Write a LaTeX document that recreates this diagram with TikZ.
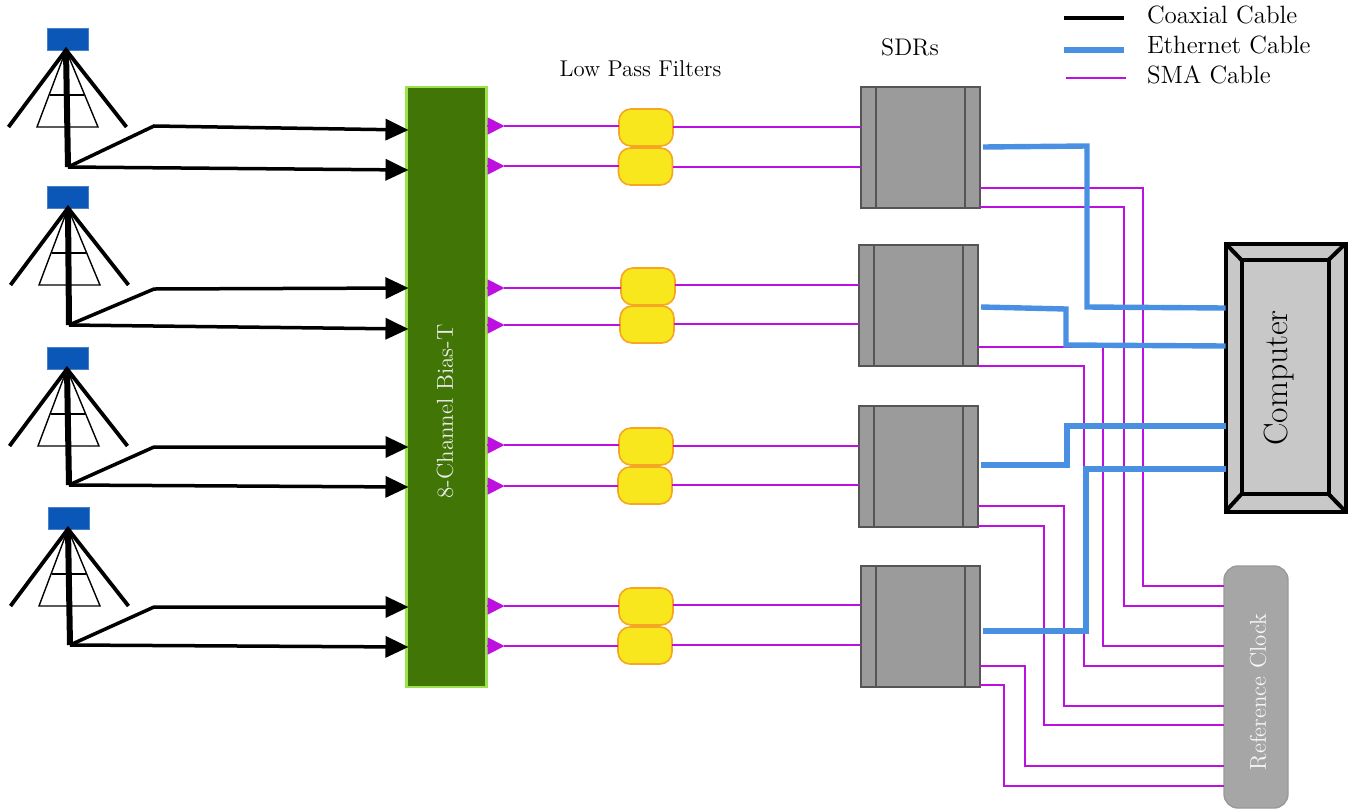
\documentclass[tikz,border=0pt]{standalone}
\usetikzlibrary{arrows.meta,calc}
\definecolor{smac}{HTML}{BD10E0}
\definecolor{ethc}{HTML}{4A90E2}
\definecolor{lpf}{HTML}{F8E71C}
\definecolor{lpfb}{HTML}{F5A623}
\definecolor{biasf}{HTML}{417505}
\definecolor{biasb}{HTML}{9BE24C}
\definecolor{dish}{HTML}{0B57B8}
\definecolor{sdrf}{HTML}{9B9B9B}
\definecolor{sdrb}{HTML}{555555}
\definecolor{pcf}{HTML}{C8C8C8}
\definecolor{clkf}{HTML}{A6A6A6}
\definecolor{clkb}{HTML}{999999}
\tikzset{
  coaxfeed/.style={draw=black,line width=1.75pt,line join=miter,-{Triangle[length=11.5pt,width=10.5pt]}},
  eth/.style={draw=ethc,line width=2.7pt,line join=miter},
  sma/.style={draw=smac,line width=.95pt,line join=miter},
  smatip/.style={draw=smac,line width=.95pt,-{Triangle[length=8.5pt,width=8.5pt]},shorten >=-.5pt},
  dishbox/.style={rectangle,fill=dish,draw=dish!75!white,line width=.4pt,minimum width=20.5pt,minimum height=11pt,inner sep=0pt,outer sep=0pt},
  filterbox/.style={rectangle,rounded corners=6pt,fill=lpf,draw=lpfb,line width=.8pt,minimum width=27pt,minimum height=18.5pt,inner sep=0pt,outer sep=0pt},
  sdrbox/.style={rectangle,fill=sdrf,draw=sdrb,line width=1pt,minimum width=59.5pt,minimum height=60.5pt,inner sep=0pt,outer sep=0pt},
  sdrline/.style={draw=sdrb,line width=1pt},
  lab/.style={inner sep=0pt,outer sep=0pt,anchor=west,font=\fontsize{12.5}{14}\selectfont},
  mast/.style={draw=black,line width=1.9pt,line cap=butt},
  thinmast/.style={draw=black,line width=.7pt},
}
\begin{document}
\begin{tikzpicture}[x=.5pt,y=-.5pt]
\useasboundingbox (0,0) rectangle (1353,809);

% Bias-T
\node[rectangle,fill=biasf,draw=biasb,line width=1.1pt,minimum width=40pt,minimum height=300pt,inner sep=0pt,outer sep=0pt] (bias) at (446.5,387) {};
\node[inner sep=0pt,text=white!92!black,font=\fontsize{11.5}{14}\selectfont] (biaslabel) at (445,411.5) {\rotatebox{90}{8-Channel Bias-T}};

% Antennas
\foreach \n/\bx/\by/\ax/\ay/\hx/\hy/\kx/\ky/\pa/\pb in {
  1/67.5/39/66/50/68/167/154/126/130/170,
  2/67.5/197/68/208/69/325/154/289/288/329,
  3/67.5/358/67/369/69/485/154/447/447/487,
  4/68.5/518/68/529/70/645/154/607/607/647}{
  \node[dishbox] (dish\n) at (\bx,\by) {};
  \coordinate (apex\n) at (\ax,\ay);
  \coordinate (hub\n) at (\hx,\hy);
  \coordinate (knee\n) at (\kx,\ky);
  \coordinate (legl\n) at ($(apex\n)+(-57.5,77)$);
  \coordinate (legr\n) at ($(apex\n)+(60.5,77)$);
  \coordinate (basel\n) at ($(apex\n)+(-29,77)$);
  \coordinate (baser\n) at ($(apex\n)+(32,77)$);
  \coordinate (barl\n) at ($(apex\n)+(-16.5,45)$);
  \coordinate (barr\n) at ($(apex\n)+(18,45)$);
  \draw[thinmast,line join=miter] (apex\n) -- (basel\n) -- (baser\n) -- cycle;
  \draw[thinmast] (barl\n) -- (barr\n);
  \draw[mast] (legl\n) -- (apex\n) -- (legr\n);
  \draw[draw=black,line width=3pt] (apex\n) -- (hub\n);
  \coordinate (in\n a) at ($(bias.west|-0,\pa)+(2,0)$);
  \coordinate (in\n b) at ($(bias.west|-0,\pb)+(2,0)$);
  \draw[coaxfeed] (hub\n) -- (knee\n) -- (in\n a);
  \draw[coaxfeed] (hub\n) -- (in\n b);
}

% SDRs
\node[sdrbox] (sdr1) at (920.5,147.5) {};
\node[sdrbox] (sdr2) at (918.5,305.5) {};
\node[sdrbox] (sdr3) at (918.5,466.5) {};
\node[sdrbox] (sdr4) at (920.5,626.5) {};
\foreach \n in {1,2,3,4}{
  \draw[sdrline] ($(sdr\n.north west)+(15,0)$) -- ($(sdr\n.south west)+(15,0)$);
  \draw[sdrline] ($(sdr\n.north east)+(-15,0)$) -- ($(sdr\n.south east)+(-15,0)$);
}

% Filters and the lines through them
\foreach \id/\fx/\fy/\by/\sy/\s in {
  1a/646/127.5/126/127/1, 1b/645.5/166.5/166/167/1,
  2a/648/286.5/288/285/2, 2b/647/324.5/325/324/2,
  3a/646/446.5/445/446/3, 3b/645/485.5/486/485/3,
  4a/646/606.5/606/605/4, 4b/645/645.5/646/645/4}{
  \node[filterbox] (f\id) at (\fx,\fy) {};
  \coordinate (bo\id) at (bias.east|-0,\by);
  \coordinate (tip\id) at ($(bo\id)+(17,0)$);
  \coordinate (si\id) at (sdr\s.west|-0,\sy);
  \draw[smatip] (bo\id) -- (tip\id);
  \draw[sma] (tip\id) -- (f\id.west|-tip\id);
  \draw[sma] (f\id.east|-si\id) -- (si\id);
}

% Computer
\node[rectangle,fill=pcf,draw=black,line width=2pt,minimum width=60pt,minimum height=134pt,inner sep=0pt,outer sep=0pt] (pc) at (1285.5,377.5) {};
\node[rectangle,fill=pcf,draw=black,line width=2pt,minimum width=43.5pt,minimum height=117pt,inner sep=0pt,outer sep=0pt] (pcin) at (1285,377) {};
\node[inner sep=0pt,font=\fontsize{16.8}{18}\selectfont] (pclabel) at (1279,378) {\rotatebox{90}{Computer}};
\draw[line width=2pt] (pc.north west) -- (pcin.north west);
\draw[line width=2pt] (pc.north east) -- (pcin.north east);
\draw[line width=2pt] (pc.south west) -- (pcin.south west);
\draw[line width=2pt] (pc.south east) -- (pcin.south east);

% Reference clock
\node[rectangle,rounded corners=7pt,fill=clkf,draw=clkb,line width=.7pt,minimum width=32pt,minimum height=121pt,inner sep=0pt,outer sep=0pt] (clock) at (1256,687) {};
\node[inner sep=0pt,text=white!97!black,font=\fontsize{11.4}{14}\selectfont] (clocklabel) at (1258,692) {\rotatebox{90}{Reference Clock}};

% SMA cables to the clock
\foreach \id/\s/\oy/\vx/\cy in {
  a/1/188/1143/586, b/1/207/1124/606,
  c/2/347/1103/646, d/2/366/1084/666,
  e/3/506/1064/706, f/3/526/1044/725,
  g/4/666/1025/766, h/4/685/1004/786}{
  \coordinate (so\id) at (sdr\s.east|-0,\oy);
  \coordinate (ci\id) at (clock.west|-0,\cy);
  \draw[sma] (so\id) -- (\vx,\oy) -- (\vx,\cy) -- (ci\id);
}

% Ethernet
\coordinate (e1) at ($(sdr1.east|-0,147)+(3,0)$);
\coordinate (e2) at ($(sdr2.east|-0,307)+(3,0)$);
\coordinate (e3) at ($(sdr3.east|-0,465)+(3,0)$);
\coordinate (e4) at ($(sdr4.east|-0,631)+(3,0)$);
\draw[eth] (e1) -- (1087,146) -- (1087,307) -- (pc.west|-0,308);
\draw[eth] (e2) -- (1066,309) -- (1066,345) -- (pc.west|-0,346);
\draw[eth] (e3) -- (1067,465) -- (1067,426) -- (pc.west|-0,426);
\draw[eth] (e4) -- (1086,631) -- (1086,469) -- (pc.west|-0,469);

% Titles
\node[inner sep=0pt,font=\fontsize{11.4}{13}\selectfont] (lpftitle) at (640.5,69) {Low Pass Filters};
\node[inner sep=0pt,font=\fontsize{12}{14}\selectfont] (sdrtitle) at (910,47) {SDRs};

% Legend
\coordinate (l1a) at (1064,18); \coordinate (l1b) at (1124,18);
\coordinate (l2a) at (1064,50); \coordinate (l2b) at (1124,50);
\coordinate (l3a) at (1066,78); \coordinate (l3b) at (1126,78);
\draw[black,line width=2.1pt] (l1a) -- (l1b);
\draw[ethc,line width=3pt] (l2a) -- (l2b);
\draw[smac,line width=1pt] (l3a) -- (l3b);
\node[lab] (lab1) at (1147,14.5) {Coaxial Cable};
\node[lab] (lab2) at (1147,44.5) {Ethernet Cable};
\node[lab] (lab3) at (1147,74.5) {SMA Cable};
\end{tikzpicture}
\end{document}
